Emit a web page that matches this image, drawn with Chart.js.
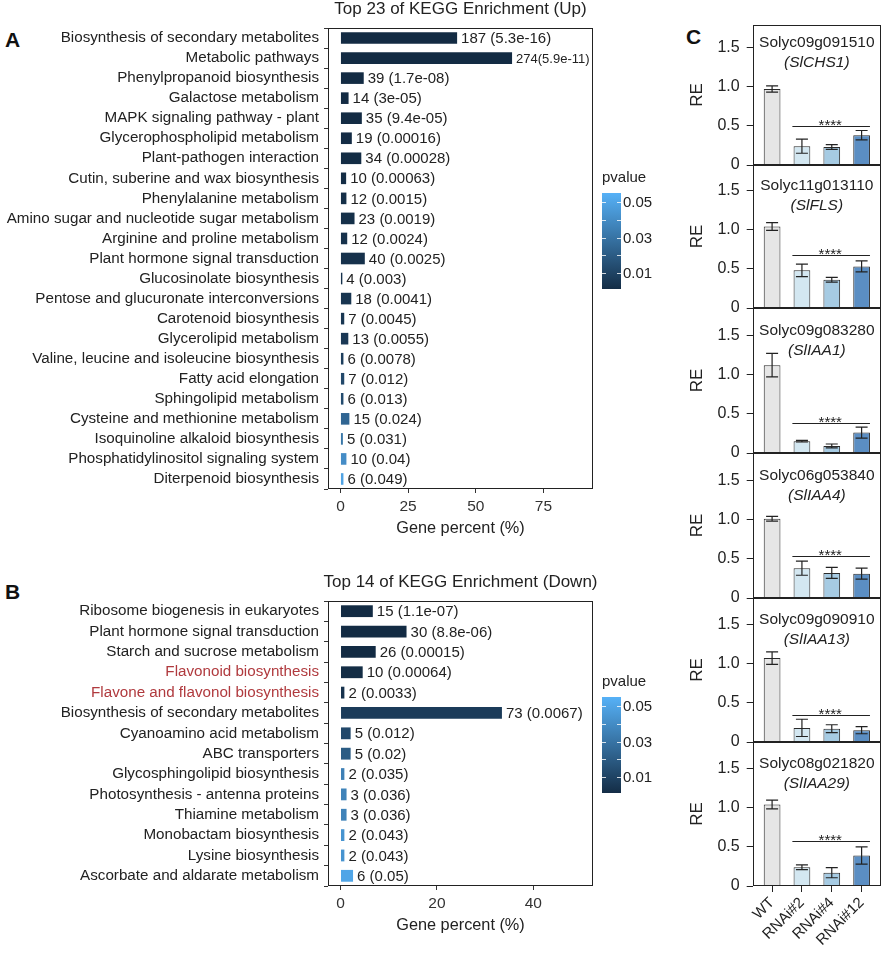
<!DOCTYPE html>
<html>
<head>
<meta charset="utf-8">
<script src="https://cdn.jsdelivr.net/npm/chart.js@4.4.1/dist/chart.umd.min.js"></script>
<style>
  body { margin: 0; background: #fff; width: 884px; height: 957px; position: relative; overflow: hidden; font-family: "Liberation Sans", Arial, sans-serif; }
  canvas { position: absolute; }
  .tag { position: absolute; font-weight: bold; font-size: 21px; line-height: 21px; color: #111; }
</style>
</head>
<body>
<div class="tag" style="left:5px;top:29px">A</div>
<div class="tag" style="left:5px;top:581px">B</div>
<div class="tag" style="left:686px;top:26px">C</div>
<canvas id="up" width="660" height="538" style="left:0;top:0"></canvas>
<canvas id="down" width="660" height="375" style="left:0;top:560px"></canvas>
<script>
const FONT = '"Liberation Sans", Arial, Helvetica, sans-serif';
Chart.defaults.font.family = FONT;
Chart.defaults.color = '#222';

// ---- A: up-regulated KEGG terms
const upCats = ['Biosynthesis of secondary metabolites', 'Metabolic pathways', 'Phenylpropanoid biosynthesis',
    'Galactose metabolism', 'MAPK signaling pathway - plant', 'Glycerophospholipid metabolism',
    'Plant-pathogen interaction', 'Cutin, suberine and wax biosynthesis', 'Phenylalanine metabolism',
    'Amino sugar and nucleotide sugar metabolism', 'Arginine and proline metabolism',
    'Plant hormone signal transduction', 'Glucosinolate biosynthesis', 'Pentose and glucuronate interconversions',
    'Carotenoid biosynthesis', 'Glycerolipid metabolism', 'Valine, leucine and isoleucine biosynthesis',
    'Fatty acid elongation', 'Sphingolipid metabolism', 'Cysteine and methionine metabolism',
    'Isoquinoline alkaloid biosynthesis', 'Phosphatidylinositol signaling system', 'Diterpenoid biosynthesis'];
const upPct = [43.1, 63.4, 8.6, 3.0, 7.9, 4.2, 7.7, 2.1, 2.2, 5.2, 2.5, 9.0, 0.7, 4.0, 1.4, 2.9, 1.1, 1.4, 1.1, 3.3, 0.9, 2.2, 1.1];
const upCounts = [187, 274, 39, 14, 35, 19, 34, 10, 12, 23, 12, 40, 4, 18, 7, 13, 6, 7, 6, 15, 5, 10, 6];
const upP = ['5.3e-16', '5.9e-11', '1.7e-08', '3e-05', '9.4e-05', '0.00016', '0.00028', '0.00063', '0.0015',
    '0.0019', '0.0024', '0.0025', '0.003', '0.0041', '0.0045', '0.0055', '0.0078', '0.012', '0.013', '0.024',
    '0.031', '0.04', '0.049'];
const upTicks = [0, 25, 50, 75];

// ---- B: down-regulated KEGG terms
const downCats = ['Ribosome biogenesis in eukaryotes', 'Plant hormone signal transduction', 'Starch and sucrose metabolism',
    'Flavonoid biosynthesis', 'Flavone and flavonol biosynthesis', 'Biosynthesis of secondary metabolites',
    'Cyanoamino acid metabolism', 'ABC transporters', 'Glycosphingolipid biosynthesis',
    'Photosynthesis - antenna proteins', 'Thiamine metabolism', 'Monobactam biosynthesis',
    'Lysine biosynthesis', 'Ascorbate and aldarate metabolism'];
const downPct = [6.7, 13.7, 7.3, 4.6, 0.8, 33.5, 2.1, 2.1, 0.8, 1.25, 1.25, 0.8, 0.8, 2.6];
const downCounts = [15, 30, 26, 10, 2, 73, 5, 5, 2, 3, 3, 2, 2, 6];
const downP = ['1.1e-07', '8.8e-06', '0.00015', '0.00064', '0.0033', '0.0067', '0.012', '0.02', '0.035',
    '0.036', '0.036', '0.043', '0.043', '0.05'];
const downRed = ['Flavonoid biosynthesis', 'Flavone and flavonol biosynthesis'];
const downTicks = [0, 20, 40];

const legendTicks = [0.01, 0.02, 0.03, 0.04, 0.05];
const legendLabels = [0.01, 0.03, 0.05];

// ---- C: qRT-PCR relative expression
const groups = ['WT', 'RNAi#2', 'RNAi#4', 'RNAi#12'];
const geneIds = ['Solyc09g091510', 'Solyc11g013110', 'Solyc09g083280', 'Solyc06g053840', 'Solyc09g090910', 'Solyc08g021820'];
const geneNames = ['(SlCHS1)', '(SlFLS)', '(SlIAA1)', '(SlIAA4)', '(SlIAA13)', '(SlIAA29)'];
const reMean = [
    [0.97, 0.24, 0.23, 0.38],
    [1.04, 0.48, 0.36, 0.53],
    [1.12, 0.15, 0.09, 0.26],
    [1.01, 0.38, 0.32, 0.31],
    [1.07, 0.18, 0.17, 0.15],
    [1.04, 0.24, 0.17, 0.39]
];
const reErr = [
    [0.04, 0.09, 0.03, 0.06],
    [0.05, 0.08, 0.03, 0.07],
    [0.15, 0.01, 0.025, 0.07],
    [0.03, 0.09, 0.07, 0.07],
    [0.08, 0.11, 0.05, 0.045],
    [0.055, 0.03, 0.065, 0.11]
];
const sigLevel = [0.50, 0.67, 0.38, 0.53, 0.35, 0.57];
const reTicks = [0, 0.5, 1.0, 1.5];

const groupColors = ['#e6e6e6', '#d3e7f1', '#a6cbe3', '#5b8ec3'];
const lowCol = [19, 43, 67], highCol = [86, 177, 247];
const pLimit = 0.055;

function pColor(p) {
    const t = Math.min(Math.max(p / pLimit, 0), 1);
    const c = lowCol.map((v, k) => Math.round(v + (highCol[k] - v) * t));
    return `rgb(${c[0]},${c[1]},${c[2]})`;
}

const frame = {
    id: 'frame',
    afterDraw(chart) {
        const { ctx, chartArea: a } = chart;
        ctx.save();
        ctx.strokeStyle = '#222';
        ctx.lineWidth = 1;
        const l = Math.round(a.left) + 0.5, t = Math.round(a.top) + 0.5,
            r = Math.round(a.right) - 0.5, b = Math.round(a.bottom) - 0.5;
        ctx.strokeRect(l, t, r - l, b - t);
        ctx.restore();
    }
};

function enrichChart(id, cats, pct, counts, pText, xTicks, xMin, xMax, padTop, title, legendY, redCats) {
    const pVals = pText.map(Number);

    const extras = {
        id: 'extras',
        afterDatasetsDraw(chart) {
            const { ctx, chartArea: a } = chart;
            ctx.save();
            ctx.fillStyle = '#222';
            ctx.textBaseline = 'middle';
            // value labels
            chart.getDatasetMeta(0).data.forEach((bar, i) => {
                let txt = `${counts[i]} (${pText[i]})`;
                let size = 15;
                const x = bar.x + 4;
                ctx.font = `${size}px ${FONT}`;
                if (x + ctx.measureText(txt).width > a.right - 4) {
                    txt = `${counts[i]}(${pText[i]})`;
                    size = 13;
                    ctx.font = `${size}px ${FONT}`;
                }
                ctx.fillText(txt, x, bar.y + 1);
            });
            // title
            ctx.font = `17px ${FONT}`;
            ctx.textAlign = 'center';
            ctx.fillText(title, (a.left + a.right) / 2, a.top - 19);
            // p-value colour bar
            const bx = a.right + 9, bw = 19;
            const y05 = legendY + 24, y01 = legendY + 95;
            const yOf = v => y05 + (0.05 - v) / 0.04 * (y01 - y05);
            const top = legendY + 15, bot = legendY + 111;
            const vTop = 0.05 + (y05 - top) / (y01 - y05) * 0.04;
            const vBot = 0.05 - (bot - y05) / (y01 - y05) * 0.04;
            const g = ctx.createLinearGradient(0, top, 0, bot);
            g.addColorStop(0, pColor(vTop));
            g.addColorStop(1, pColor(vBot));
            ctx.fillStyle = g;
            ctx.fillRect(bx, top, bw, bot - top);
            ctx.strokeStyle = 'rgba(255,255,255,0.8)';
            legendTicks.forEach(v => {
                const y = Math.round(yOf(v)) + 0.5;
                ctx.beginPath();
                ctx.moveTo(bx, y); ctx.lineTo(bx + 4, y);
                ctx.moveTo(bx + bw - 4, y); ctx.lineTo(bx + bw, y);
                ctx.stroke();
            });
            ctx.fillStyle = '#222';
            ctx.textAlign = 'left';
            ctx.font = `15px ${FONT}`;
            ctx.fillText('pvalue', bx, legendY);
            legendLabels.forEach(v => ctx.fillText(v.toFixed(2), bx + bw + 2, yOf(v) + 1));
            ctx.restore();
        }
    };

    return new Chart(document.getElementById(id), {
        type: 'bar',
        data: {
            labels: cats,
            datasets: [{
                data: pct,
                backgroundColor: pVals.map(pColor),
                barPercentage: 0.58,
                categoryPercentage: 1
            }]
        },
        options: {
            indexAxis: 'y',
            responsive: false,
            animation: false,
            layout: { padding: { top: padTop, right: 67, left: 0, bottom: 0 } },
            plugins: { legend: { display: false }, tooltip: { enabled: false } },
            scales: {
                x: {
                    type: 'linear', min: xMin, max: xMax,
                    afterBuildTicks: s => { s.ticks = xTicks.map(v => ({ value: v })); },
                    afterFit: s => { s.height = 49; },
                    grid: { drawOnChartArea: false, tickLength: 4, color: '#333' },
                    border: { display: false },
                    ticks: { font: { size: 15.5 }, color: '#333', padding: 4 },
                    title: { display: true, text: 'Gene percent (%)', font: { size: 16.3 }, color: '#222', padding: 0 }
                },
                y: {
                    afterFit: s => { s.width = 328; },
                    grid: { drawOnChartArea: false, tickLength: 4, color: '#333' },
                    border: { display: false },
                    ticks: {
                        autoSkip: false, font: { size: 15.2 }, padding: 5,
                        color: c => redCats.includes(cats[c.index]) ? '#b03a3e' : '#222'
                    }
                }
            }
        },
        plugins: [frame, extras]
    });
}

enrichChart('up', upCats, upPct, upCounts, upP, upTicks, -4.6, 93.3, 28, 'Top 23 of KEGG Enrichment (Up)', 178, []);
enrichChart('down', downCats, downPct, downCounts, downP, downTicks, -2.6, 52.4, 41, 'Top 14 of KEGG Enrichment (Down)', 122, downRed);

// ---- C panels
const reTop = [25, 165, 308, 453, 598, 742];
const reZero = [165, 308, 453, 598, 742, 886];

function rePlugin(i) {
    return {
        id: 'reExtras',
        afterDatasetsDraw(chart) {
            const { ctx, chartArea: a, scales: { x, y } } = chart;
            ctx.save();
            ctx.strokeStyle = '#222';
            ctx.fillStyle = '#222';
            ctx.lineWidth = 1.2;
            // error bars
            reMean[i].forEach((m, k) => {
                const px = x.getPixelForValue(k);
                const hi = y.getPixelForValue(m + reErr[i][k]), lo = y.getPixelForValue(Math.max(m - reErr[i][k], 0));
                ctx.beginPath();
                ctx.moveTo(px, hi); ctx.lineTo(px, lo);
                ctx.moveTo(px - 6, hi); ctx.lineTo(px + 6, hi);
                ctx.moveTo(px - 6, lo); ctx.lineTo(px + 6, lo);
                ctx.stroke();
            });
            // significance
            const sy = Math.round(y.getPixelForValue(sigLevel[i])) + 0.5;
            ctx.lineWidth = 1;
            ctx.beginPath();
            ctx.moveTo(x.getPixelForValue(0.68), sy);
            ctx.lineTo(x.getPixelForValue(3.28), sy);
            ctx.stroke();
            ctx.font = `15px ${FONT}`;
            ctx.textAlign = 'center';
            ctx.textBaseline = 'alphabetic';
            ctx.fillText('****', x.getPixelForValue(1.95), sy + 3);
            // gene title
            const cx = (a.left + a.right) / 2;
            ctx.textBaseline = 'middle';
            ctx.font = `15.5px ${FONT}`;
            ctx.fillText(geneIds[i], cx, y.getPixelForValue(1.56));
            ctx.font = `italic 15.5px ${FONT}`;
            ctx.fillText(geneNames[i], cx, y.getPixelForValue(1.30));
            ctx.restore();
        }
    };
}

reMean.forEach((means, i) => {
    const last = i === reMean.length - 1;
    const cv = document.createElement('canvas');
    const top = reTop[i] - 10;
    const h = last ? 957 - top : reZero[i] - reTop[i] + 20;
    cv.width = 204;
    cv.height = h;
    cv.style.left = '680px';
    cv.style.top = top + 'px';
    document.body.appendChild(cv);

    new Chart(cv, {
        type: 'bar',
        data: {
            datasets: [{
                data: means.map((v, k) => ({ x: k, y: v })),
                backgroundColor: groupColors,
                borderColor: '#2a2a2a',
                borderWidth: 1,
                barPercentage: 0.56,
                categoryPercentage: 1
            }]
        },
        options: {
            responsive: false,
            animation: false,
            layout: { padding: { top: 10, bottom: last ? 0 : 10, left: 0, right: 3 } },
            plugins: { legend: { display: false }, tooltip: { enabled: false } },
            scales: {
                x: {
                    type: 'linear', min: -0.65, max: 3.65, display: last, offset: false,
                    afterBuildTicks: s => { s.ticks = groups.map((g, k) => ({ value: k })); },
                    afterFit: s => {
                        s.height = last ? 71 : 0;
                        s.paddingLeft = 0; s.paddingRight = 0;
                    },
                    ticks: { callback: v => groups[v], maxRotation: 45, minRotation: 45, font: { size: 15 }, padding: 2, color: '#222' },
                    grid: { drawOnChartArea: false, offset: false, tickLength: 6, color: '#222' },
                    border: { display: false }
                },
                y: {
                    min: 0, max: (reZero[i] - reTop[i]) / 78.4,
                    afterBuildTicks: s => { s.ticks = reTicks.map(v => ({ value: v })); },
                    afterFit: s => {
                        s.width = 72.7;
                        s.paddingTop = 0; s.paddingBottom = 0;
                    },
                    ticks: { callback: v => v === 0 ? '0' : v.toFixed(1), font: { size: 16 }, padding: 7, color: '#222' },
                    grid: { drawOnChartArea: false, tickLength: 6, color: '#222' },
                    border: { display: false },
                    title: { display: true, text: 'RE', font: { size: 17 }, padding: { top: 7 }, color: '#222' }
                }
            }
        },
        plugins: [frame, rePlugin(i)]
    });
});
</script>
</body>
</html>
